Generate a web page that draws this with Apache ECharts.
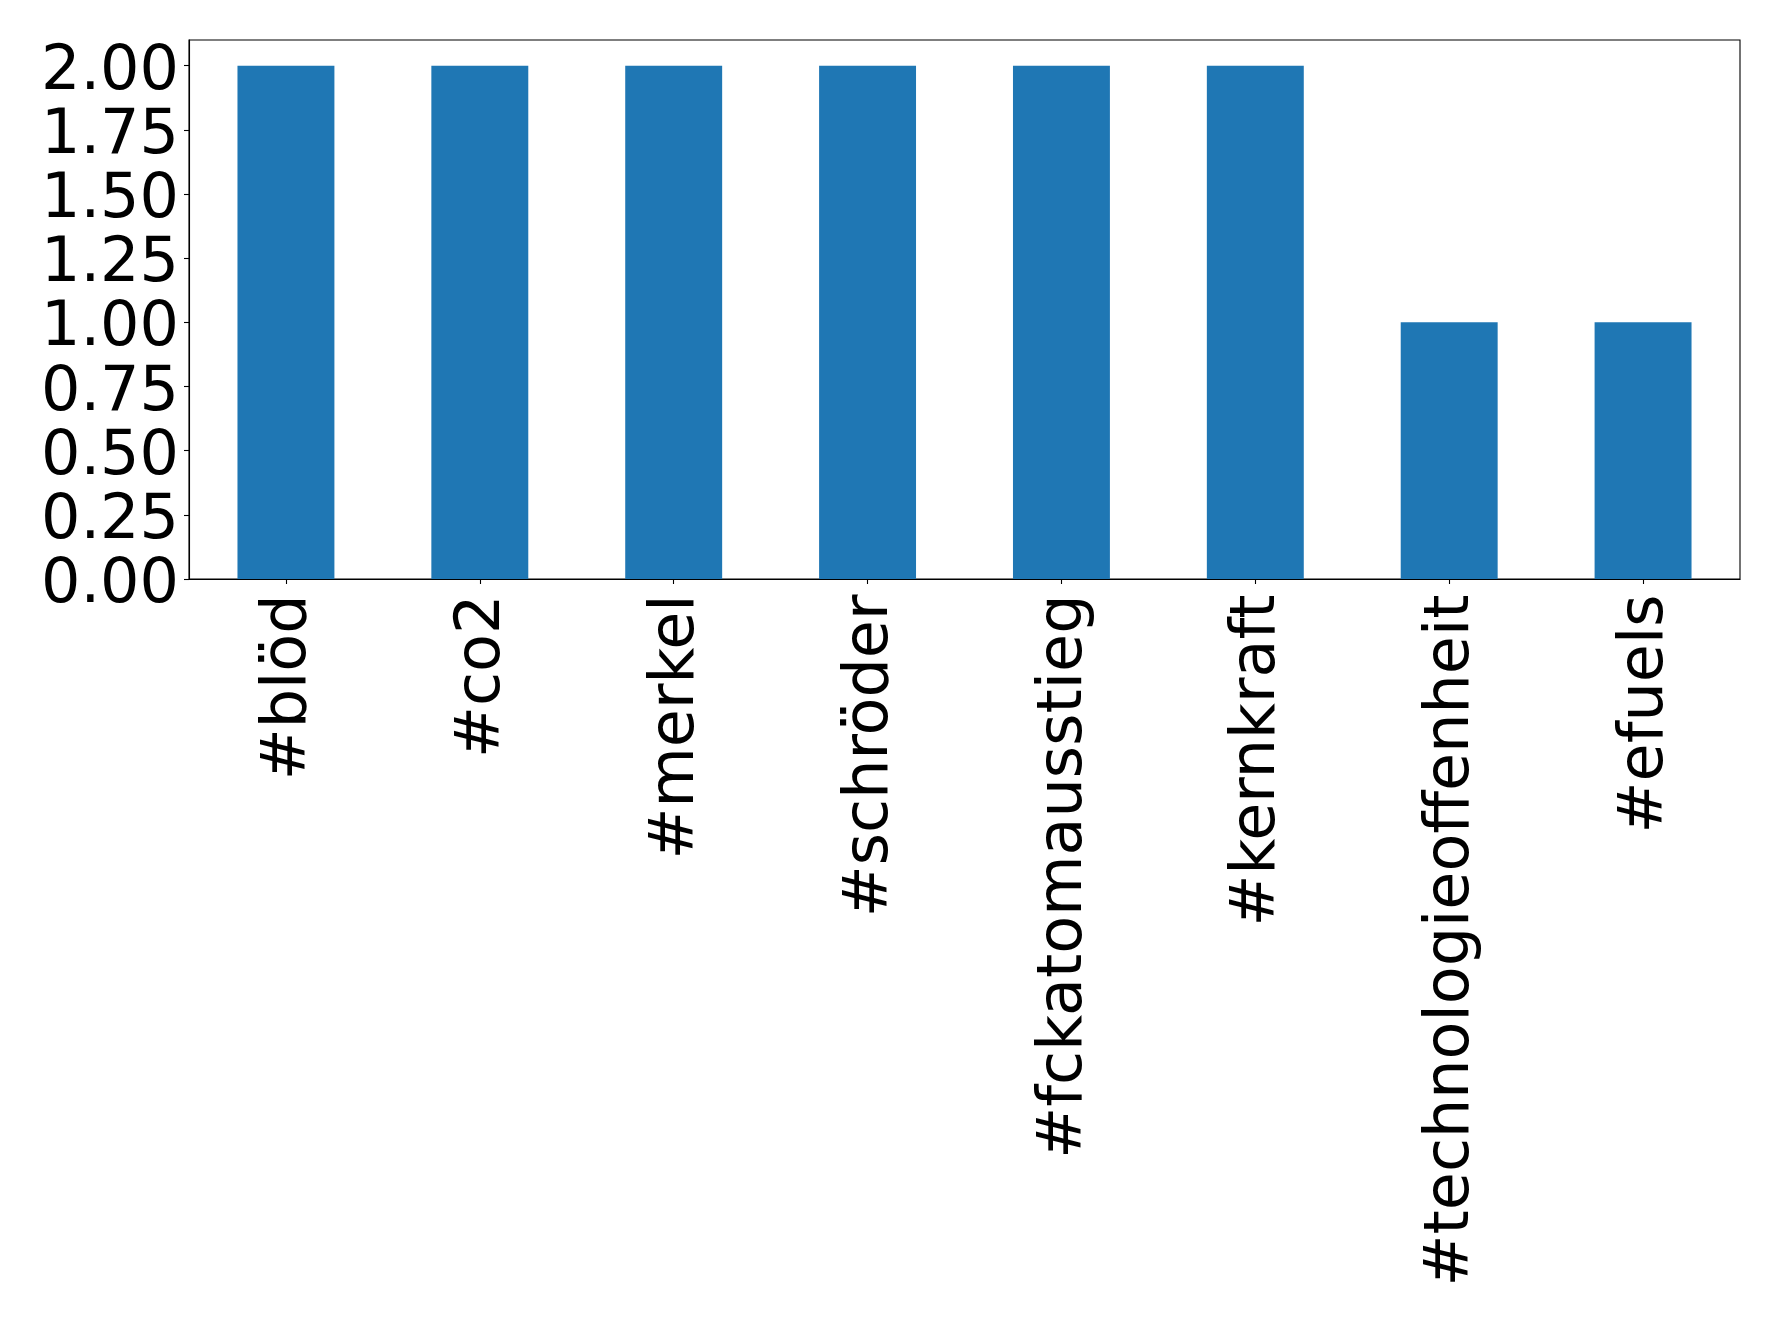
<!DOCTYPE html>
<html>
<head>
<meta charset="utf-8">
<script src="https://cdn.jsdelivr.net/npm/echarts@6/dist/echarts.min.js"></script>
<style>
  html, body { margin: 0; padding: 0; background: #fff; }
  #chart { width: 1778px; height: 1327px; }
</style>
</head>
<body>
<div id="chart"></div>
<script>
const categories = ['#blöd', '#co2', '#merkel', '#schröder', '#fckatomausstieg', '#kernkraft', '#technologieoffenheit', '#efuels'];
const counts = [2, 2, 2, 2, 2, 2, 1, 1];
const yTicks = [0, 0.25, 0.5, 0.75, 1.0, 1.25, 1.5, 1.75, 2.0];

const chart = echarts.init(document.getElementById('chart'), null, { renderer: 'canvas' });
const font = 'DejaVu Sans';
chart.setOption({
  animation: false,
  backgroundColor: '#ffffff',
  grid: {
    left: 189, right: 38, top: 40, bottom: 748,
    show: true, borderColor: '#000000', borderWidth: 1.1, backgroundColor: 'transparent',
    containLabel: false
  },
  xAxis: {
    type: 'category',
    data: categories,
    boundaryGap: true,
    axisLine: { show: true, lineStyle: { color: '#000', width: 1.1 } },
    axisTick: { show: true, alignWithLabel: true, length: 5, lineStyle: { color: '#000', width: 1.1 } },
    axisLabel: {
      show: true, interval: 0, rotate: 90, margin: 15.5,
      verticalAlign: 'top', lineHeight: 6,
      fontFamily: font, fontSize: 62, color: '#000'
    },
    splitLine: { show: false }
  },
  yAxis: {
    type: 'value',
    min: 0, max: 2.1,
    interval: 0.25,
    axisLine: { show: true, lineStyle: { color: '#000', width: 1.1 } },
    axisTick: { show: true, length: 5, customValues: yTicks, lineStyle: { color: '#000', width: 1.1 } },
    axisLabel: {
      show: true, margin: 10, customValues: yTicks,
      verticalAlign: 'top', lineHeight: 14,
      fontFamily: font, fontSize: 62, color: '#000',
      formatter: v => v.toFixed(2)
    },
    splitLine: { show: false }
  },
  series: [{
    type: 'bar',
    data: counts,
    barWidth: '50%',
    itemStyle: { color: '#1f77b4' }
  }]
});
</script>
</body>
</html>
